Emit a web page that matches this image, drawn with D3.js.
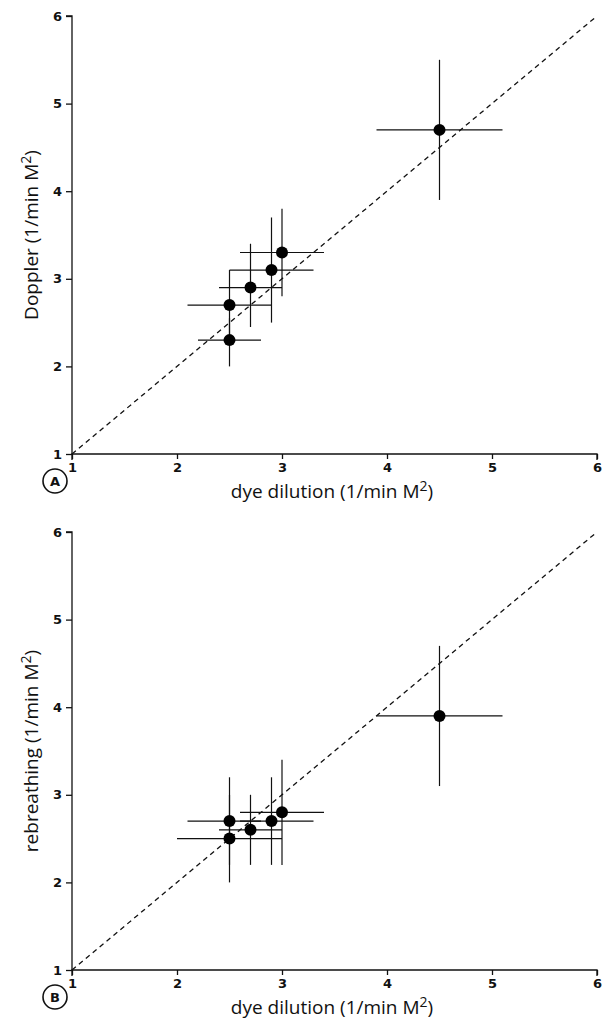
<!DOCTYPE html>
<html><head><meta charset="utf-8">
<script src="https://cdn.jsdelivr.net/npm/d3@7"></script>
<style>
html,body{margin:0;padding:0;background:#fff;}
svg{display:block;}
text{font-family:"Open Sans","DejaVu Sans",sans-serif;fill:#111;}
</style></head>
<body>
<svg id="chart" width="605" height="1022"></svg>
<script>
// ---- data ----
const dyeDilution = [4.5, 3.0, 2.9, 2.7, 2.5, 2.5];
const dyeLow      = [3.9, 2.6, 2.5, 2.4, 2.1, 2.2];
const dyeHigh     = [5.1, 3.4, 3.3, 3.0, 2.9, 2.8];

const doppler     = [4.7, 3.3, 3.1, 2.9, 2.7, 2.3];
const dopplerLow  = [3.9, 2.8, 2.5, 2.45, 2.3, 2.0];
const dopplerHigh = [5.5, 3.8, 3.7, 3.4, 3.1, 2.55];

const dyeB        = [4.5, 3.0, 2.9, 2.7, 2.5, 2.5];
const dyeBLow     = [3.9, 2.6, 2.6, 2.4, 2.1, 2.0];
const dyeBHigh    = [5.1, 3.4, 3.3, 3.0, 2.8, 3.0];
const rebreathing     = [3.9, 2.8, 2.7, 2.6, 2.7, 2.5];
const rebreathingLow  = [3.1, 2.2, 2.2, 2.2, 2.2, 2.0];
const rebreathingHigh = [4.7, 3.4, 3.2, 3.0, 3.2, 3.0];

const tickValues = [1, 2, 3, 4, 5, 6];
const identityLine = [1, 6];

const panels = [
  {letter: "A", ylabel: "Doppler", x: dyeDilution, xl: dyeLow, xh: dyeHigh, y: doppler, yl: dopplerLow, yh: dopplerHigh, top: 16, bottom: 454},
  {letter: "B", ylabel: "rebreathing", x: dyeB, xl: dyeBLow, xh: dyeBHigh, y: rebreathing, yl: rebreathingLow, yh: rebreathingHigh, top: 532, bottom: 970}
];

const svg = d3.select("#chart");
const left = 72, right = 597;

panels.forEach(p => {
  const x = d3.scaleLinear().domain([1, 6]).range([left, right]);
  const y = d3.scaleLinear().domain([1, 6]).range([p.bottom, p.top]);
  const g = svg.append("g");

  // axes
  const xAxis = d3.axisBottom(x).tickValues(tickValues).tickSize(5).tickPadding(4).tickFormat(d3.format("d"));
  const yAxis = d3.axisLeft(y).tickValues(tickValues).tickSize(6).tickPadding(4).tickFormat(d3.format("d"));
  const gx = g.append("g").attr("transform", `translate(0,${p.bottom})`).call(xAxis);
  const gy = g.append("g").attr("transform", `translate(${left},0)`).call(yAxis);
  [gx, gy].forEach(a => {
    a.select(".domain").attr("stroke", "#111").attr("stroke-width", 1.3);
    a.selectAll(".tick line").attr("stroke", "#111").attr("stroke-width", 1.3);
    a.selectAll(".tick text").attr("font-size", 13).attr("font-weight", "bold")
      .style("font-family", "'DejaVu Sans',sans-serif").attr("fill", "#111");
  });
  gx.select(".domain").attr("d", `M${left},6V0H${right}V6`);
  gy.select(".domain").attr("d", `M-6,${p.top}H0V${p.bottom}`);

  // identity dashed line
  g.append("line")
    .attr("x1", x(identityLine[0])).attr("y1", y(identityLine[0]))
    .attr("x2", x(identityLine[1])).attr("y2", y(identityLine[1]))
    .attr("stroke", "#111").attr("stroke-width", 1.3).attr("stroke-dasharray", "5,4");

  const idx = d3.range(p.x.length);
  // horizontal error bars
  g.selectAll(".hbar").data(idx).enter().append("line")
    .attr("x1", i => x(p.xl[i])).attr("x2", i => x(p.xh[i]))
    .attr("y1", i => y(p.y[i])).attr("y2", i => y(p.y[i]))
    .attr("stroke", "#111").attr("stroke-width", 1.2);
  // vertical error bars
  g.selectAll(".vbar").data(idx).enter().append("line")
    .attr("x1", i => x(p.x[i])).attr("x2", i => x(p.x[i]))
    .attr("y1", i => y(p.yl[i])).attr("y2", i => y(p.yh[i]))
    .attr("stroke", "#111").attr("stroke-width", 1.2);
  // points
  g.selectAll(".pt").data(idx).enter().append("circle")
    .attr("cx", i => x(p.x[i])).attr("cy", i => y(p.y[i])).attr("r", 6)
    .attr("fill", "#000");

  // x title
  const xt = g.append("text").attr("x", 332).attr("y", p.bottom + 44)
    .attr("text-anchor", "middle").attr("font-size", 19);
  xt.append("tspan").text("dye dilution (1/min M");
  xt.append("tspan").attr("dy", -7).attr("font-size", 14).text("2");
  xt.append("tspan").attr("dy", 7).text(")");

  // y title
  const cy = (p.top + p.bottom) / 2;
  const yt = g.append("text").attr("transform", `translate(38,${cy}) rotate(-90)`)
    .attr("text-anchor", "middle").attr("font-size", 19);
  yt.append("tspan").text(p.ylabel + " (1/min M");
  yt.append("tspan").attr("dy", -7).attr("font-size", 14).text("2");
  yt.append("tspan").attr("dy", 7).text(")");

  // panel letter in circle
  g.append("circle").attr("cx", 55).attr("cy", p.bottom + 27).attr("r", 12)
    .attr("fill", "none").attr("stroke", "#111").attr("stroke-width", 1.6);
  g.append("text").attr("x", 55).attr("y", p.bottom + 32).attr("text-anchor", "middle")
    .attr("font-size", 13).attr("font-weight", "bold").style("font-family", "'DejaVu Sans',sans-serif").text(p.letter);
});
</script>
</body></html>
